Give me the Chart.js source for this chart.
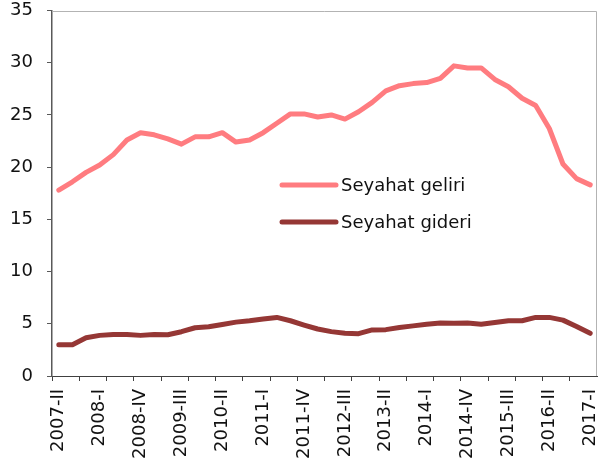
<!DOCTYPE html>
<html>
<head>
<meta charset="utf-8">
<script src="https://cdn.jsdelivr.net/npm/chart.js@4/dist/chart.umd.min.js"></script>
<style>
  html, body { margin: 0; padding: 0; background: #fff; }
  #wrap { width: 604px; height: 470px; position: relative; }
</style>
</head>
<body>
<div id="wrap"><canvas id="c" width="604" height="470"></canvas></div>
<script>
const categories = [
  "2007-II","2007-III","2007-IV",
  "2008-I","2008-II","2008-III","2008-IV",
  "2009-I","2009-II","2009-III","2009-IV",
  "2010-I","2010-II","2010-III","2010-IV",
  "2011-I","2011-II","2011-III","2011-IV",
  "2012-I","2012-II","2012-III","2012-IV",
  "2013-I","2013-II","2013-III","2013-IV",
  "2014-I","2014-II","2014-III","2014-IV",
  "2015-I","2015-II","2015-III","2015-IV",
  "2016-I","2016-II","2016-III","2016-IV",
  "2017-I"
];
const seyahatGeliri = [
  17.8, 18.6, 19.5, 20.2, 21.2, 22.6, 23.3, 23.1, 22.7, 22.2,
  22.9, 22.9, 23.3, 22.4, 22.6, 23.3, 24.2, 25.1, 25.1, 24.8,
  25.0, 24.6, 25.3, 26.2, 27.3, 27.8, 28.0, 28.1, 28.5, 29.7,
  29.5, 29.5, 28.4, 27.7, 26.6, 25.9, 23.7, 20.3, 18.9, 18.3
];
const seyahatGideri = [
  3.0, 3.0, 3.66, 3.89, 3.98, 3.98, 3.89, 3.98, 3.95, 4.24,
  4.62, 4.72, 4.94, 5.16, 5.29, 5.45, 5.61, 5.29, 4.88, 4.5,
  4.25, 4.09, 4.05, 4.41, 4.44, 4.64, 4.8, 4.96, 5.07, 5.04,
  5.07, 4.96, 5.12, 5.29, 5.29, 5.61, 5.61, 5.35, 4.74, 4.09
];
const seriesNames = ["Seyahat geliri", "Seyahat gideri"];
const yTicks = [0, 5, 10, 15, 20, 25, 30, 35];

const FONT = { family: "'DejaVu Sans', sans-serif", size: 18 };

const frame = {
  id: 'frame',
  beforeDatasetsDraw(chart) {
    const a = chart.chartArea, ctx = chart.ctx;
    ctx.save();
    ctx.strokeStyle = '#b3b3b3';
    ctx.lineWidth = 1;
    ctx.beginPath();
    ctx.moveTo(a.left, Math.round(a.top) + 0.5);
    ctx.lineTo(Math.round(a.right) - 0.5, Math.round(a.top) + 0.5);
    ctx.lineTo(Math.round(a.right) - 0.5, a.bottom);
    ctx.stroke();
    ctx.restore();
  }
};

const innerLegend = {
  id: 'innerLegend',
  afterDraw(chart) {
    const ctx = chart.ctx;
    const x0 = 282, x1 = 336, tx = 341;
    const ys = [185, 222];
    ctx.save();
    chart.data.datasets.forEach((ds, i) => {
      ctx.strokeStyle = ds.borderColor;
      ctx.lineWidth = 5;
      ctx.lineCap = 'round';
      ctx.beginPath();
      ctx.moveTo(x0, ys[i]);
      ctx.lineTo(x1, ys[i]);
      ctx.stroke();
      ctx.fillStyle = '#111';
      ctx.font = "18px 'DejaVu Sans', sans-serif";
      ctx.textBaseline = 'middle';
      ctx.textAlign = 'left';
      ctx.fillText(ds.label, tx, ys[i] + 1);
    });
    ctx.restore();
  }
};

new Chart(document.getElementById('c'), {
  type: 'line',
  data: {
    labels: categories,
    datasets: [
      { label: seriesNames[0], data: seyahatGeliri, borderColor: '#FF7C80', backgroundColor: '#FF7C80',
        borderWidth: 5, pointRadius: 0, tension: 0, borderJoinStyle: 'round', borderCapStyle: 'round' },
      { label: seriesNames[1], data: seyahatGideri, borderColor: '#953735', backgroundColor: '#953735',
        borderWidth: 5, pointRadius: 0, tension: 0, borderJoinStyle: 'round', borderCapStyle: 'round' }
    ]
  },
  options: {
    responsive: false,
    animation: false,
    devicePixelRatio: 1,
    layout: { padding: { left: 10, right: 7, top: 10.5, bottom: 0 } },
    plugins: { legend: { display: false }, tooltip: { enabled: false } },
    scales: {
      x: {
        offset: true,
        afterFit: (axis) => { axis.height = 94; axis.paddingLeft = 0; axis.paddingRight = 0; },
        grid: {
          offset: true,
          drawOnChartArea: false,
          tickLength: 5,
          color: (c) => (c.index % 2 === 0 ? '#404040' : 'rgba(0,0,0,0)')
        },
        border: { color: '#404040', width: 1 },
        ticks: {
          autoSkip: false,
          maxRotation: 90,
          minRotation: 90,
          padding: 8,
          color: '#111',
          font: FONT,
          callback: (v, i) => (i % 3 === 0 ? categories[i] : '')
        }
      },
      y: {
        min: 0,
        max: 35,
        afterBuildTicks: (axis) => { axis.ticks = yTicks.map(v => ({ value: v })); },
        afterFit: (axis) => { axis.width = 42; axis.paddingTop = 0; axis.paddingBottom = 0; },
        grid: { drawOnChartArea: false, tickLength: 5, color: '#595959' },
        border: { color: '#595959', width: 1.5 },
        ticks: { padding: 14, color: '#111', font: FONT }
      }
    }
  },
  plugins: [frame, innerLegend]
});
</script>
</body>
</html>
